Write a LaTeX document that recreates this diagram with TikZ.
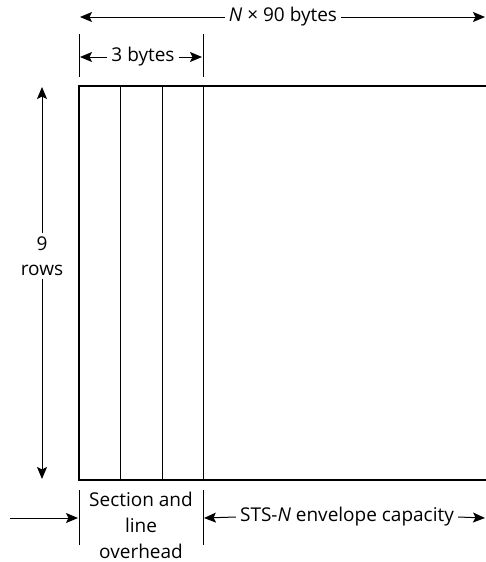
\documentclass[tikz,border=0pt]{standalone}
\usepackage{fontspec}
\setmainfont{Open Sans}
\usetikzlibrary{arrows.meta}
\begin{document}
\begin{tikzpicture}[x=1pt, y=-1pt,
  sonetframe/.style = {line width=1.8pt},
  sonetcol/.style = {line width=1pt},
  sonettick/.style = {line width=1pt},
  sonetarrow/.style = {-{Stealth[length=12pt, width=10pt, inset=2.5pt]}, line width=1pt},
  sonetlbl/.style = {font=\fontsize{19}{26}\selectfont, inner sep=4pt}
]
  \useasboundingbox (0,0) rectangle (486,562);
  % frame
  \draw[sonetframe] (490,86) -- (79,86) -- (79,480) -- (490,480);
  \foreach \x in {120,162,203} {
    \draw[sonetcol] (\x,86) -- (\x,480);
  }
  % width of frame
  \node[sonetlbl] (nbytes) at (283,17) {{\itshape N} × 90 bytes};
  \coordinate (topL) at (80,17);
  \coordinate (topR) at (485,17);
  \draw[sonetarrow] (nbytes.west) -- (topL);
  \draw[sonetarrow] (nbytes.east) -- (topR);
  % overhead width
  \draw[sonettick] (79,34) -- (79,77);
  \draw[sonettick] (203,34) -- (203,77);
  \node[sonetlbl] (threebytes) at (143,57) {3 bytes};
  \coordinate (ohL) at (80,57);
  \coordinate (ohR) at (202,57);
  \draw[sonetarrow] (threebytes.west) -- (ohL);
  \draw[sonetarrow] (threebytes.east) -- (ohR);
  % rows
  \node[sonetlbl] (nine) at (42,244) {9};
  \node[sonetlbl] (rows) at (42,270) {rows};
  \coordinate (rowsT) at (42,87);
  \coordinate (rowsB) at (42,479);
  \draw[sonetarrow] (nine.north) -- (rowsT);
  \draw[sonetarrow] (rows.south) -- (rowsB);
  % bottom labels
  \draw[sonettick] (79,490) -- (79,545);
  \draw[sonettick] (203,490) -- (203,545);
  \node[sonetlbl, align=center, inner sep=1pt] (overhead) at (141,525)
    {Section and\\line\\overhead};
  \coordinate (inL) at (10,518);
  \coordinate (inR) at (78,518);
  \draw[sonetarrow] (inL) -- (inR);
  \node[sonetlbl] (envelope) at (347,517) {STS-{\itshape N} envelope capacity};
  \coordinate (envL) at (204,518);
  \coordinate (envR) at (485,518);
  \draw[sonetarrow] (envelope.west) -- (envL);
  \draw[sonetarrow] (envelope.east) -- (envR);
\end{tikzpicture}
\end{document}
